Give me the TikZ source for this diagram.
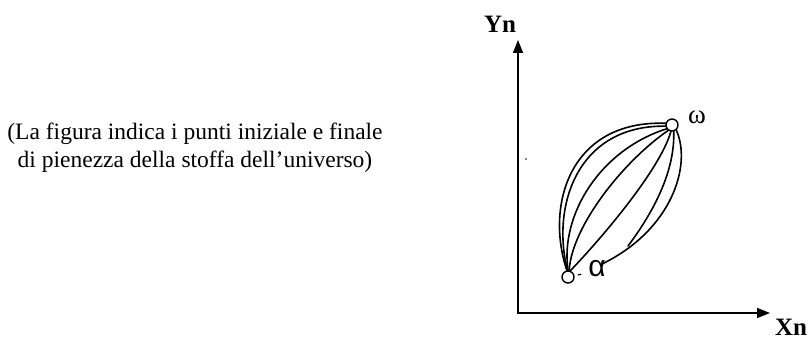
\documentclass[tikz,border=0pt]{standalone}
\usepackage{fontspec}
\setmainfont{Liberation Serif}
\newfontfamily\greeksans{Liberation Sans}
\usetikzlibrary{arrows.meta}
\begin{document}
\begin{tikzpicture}[x=1pt,y=-1pt,
  axis/.style={line width=1.6pt, {Triangle[length=13pt,width=10pt]}-{Triangle[length=13pt,width=10pt]}},
  fibre/.style={line width=1.6pt, line cap=round},
  endpt/.style={circle, draw, line width=1.4pt, fill=white, inner sep=0pt, minimum size=12pt},
  axlabel/.style={inner sep=0pt, font=\fontsize{25}{29}\selectfont\bfseries},
  caption/.style={align=center, inner sep=0pt, font=\fontsize{23.5}{28}\selectfont}]
\useasboundingbox (0,0) rectangle (810,339);

% caption
\node[caption] (cap) at (195,148) {(La figura indica i punti iniziale e finale\\di pienezza della stoffa dell’universo)};

% axes
\coordinate (O) at (518,313);
\coordinate (ytip) at (518,40);
\coordinate (xtip) at (770,313);
\draw[axis] (ytip) -- (O) -- (xtip);
\node[axlabel] (yn) at (500,24) {Yn};
\node[axlabel] (xn) at (791,327) {Xn};

% initial and final points
\node[endpt] (A) at (568,277) {};
\node[endpt] (W) at (672,125) {};
\node[inner sep=0pt, font=\greeksans\fontsize{30}{34}\selectfont] (alab) at (597,269) {α};
\node[inner sep=0pt, font=\fontsize{27}{31}\selectfont] (wlab) at (697,117) {ω};
\draw[line width=1.2pt] (A.east) ++(3,-2) coordinate (d1) -- ++(3.5,-0.8) coordinate (d2);

% stray mark
\fill (526,159) circle (0.8);

% fibres joining the two points
\coordinate (r1end) at (628,246);
\coordinate (r2end) at (602,264);
\draw[fibre] (A.100) .. controls (545,205) and (570,120) .. (W.165);
\draw[fibre] (A.95) .. controls (551,205) and (578,125) .. (W.190);
\draw[fibre] (A.90) .. controls (560,215) and (600,150) .. (W.215);
\draw[fibre] (A.80) .. controls (572,225) and (625,160) .. (W.235);
\draw[fibre] (A.70) .. controls (600,240) and (660,170) .. (W.260);
\draw[fibre] (W.285) .. controls (675,170) and (655,210) .. (r1end);
\draw[fibre] (W.310) .. controls (692,165) and (672,230) .. (r2end);
\end{tikzpicture}
\end{document}
